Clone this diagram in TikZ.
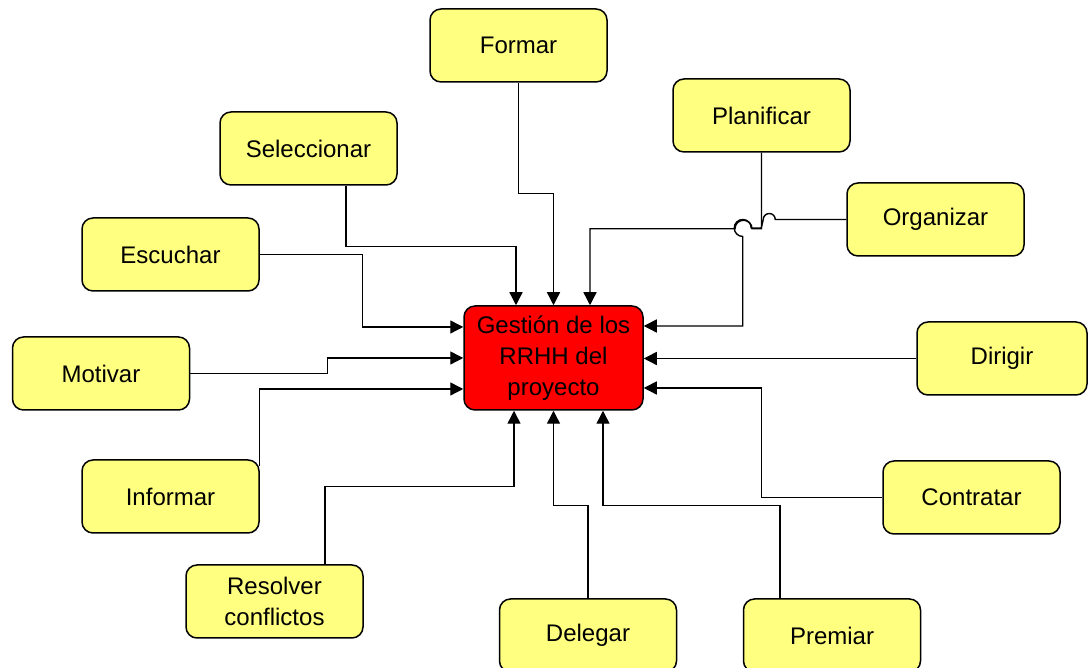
\documentclass[tikz,border=0pt]{standalone}
\usepackage{fontspec}
\setmainfont{Liberation Sans}
\usetikzlibrary{arrows.meta,calc}
\definecolor{boxyellow}{RGB}{255,255,128}
\definecolor{corered}{RGB}{255,0,0}
\begin{document}
\begin{tikzpicture}[x=1pt,y=1pt,
  task/.style={draw=black, line width=1.5pt, fill=boxyellow, rounded corners=11pt,
    minimum width=177pt, minimum height=73pt, inner sep=0pt, align=center,
    font=\fontsize{24}{31}\selectfont},
  core/.style={task, fill=corered, minimum width=179pt, minimum height=104pt},
  conn/.style={line width=1.4pt, rounded corners=0pt},
  tip/.style={conn, -{Triangle[length=13pt,width=13pt]}}]
\useasboundingbox (0,0) rectangle (1088,668);
\clip (0,0) rectangle (1088,668);

% central activity
\node[core] (gest) at (553.5,310) {Gestión de los\\RRHH del\\proyecto};

% surrounding activities
\node[task] (formar) at (518.5,622.5) {Formar};
\node[task] (plan)   at (761.5,552.5) {Planificar};
\node[task] (selec)  at (308.5,519.5) {Seleccionar};
\node[task] (organ)  at (935.5,448.5) {Organizar};
\node[task] (escu)   at (170.5,413.5) {Escuchar};
\node[task] (motiv)  at (101,294.5)   {Motivar};
\node[task, minimum width=170pt] (dirig) at (1002,309.5) {Dirigir};
\node[task] (inform) at (170.5,171.5) {Informar};
\node[task] (contr)  at (971.5,170.5) {Contratar};
\node[task] (resol)  at (274.5,66.5)  {Resolver\\conflictos};
\node[task] (deleg)  at (588,32.5)    {Delegar};
\node[task] (prem)   at (832,32.5)    {Premiar};

% connectors into the top side
\draw[tip] (formar.south) -- ++(0,-111) -| (gest.north);
\draw[tip] ($(selec.south)+(37.5,0)$) -- ++(0,-61) -| ($(gest.north)+(-37.5,0)$);
\draw[tip] (plan.south) -- ++(0,-76) -- ++(-9.5,0)
  arc[start angle=0, end angle=180, radius=8.5] -| ($(gest.north)+(36.5,0)$);

% connectors into the right side
\draw[tip] (organ.west) -- ++(-71,0)
  arc[start angle=0, end angle=180, radius=6] -- ++(-2,-8.5) -- ++(-10,0)
  arc[start angle=0, end angle=270, radius=8.5] |- ($(gest.east)+(0,32)$);
\draw[tip] (dirig.west) -- (dirig.west -| gest.east);
\draw[tip] (contr.west) -- ++(-121,0) |- ($(gest.east)+(0,-30)$);

% connectors into the left side
\draw[tip] (escu.east) -- ++(103,0) |- ($(gest.west)+(0,31)$);
\draw[tip] (motiv.east) -- ++(137,0) |- (gest.west);
\draw[tip] ($(inform.north east)+(0,-7)$) |- ($(gest.west)+(0,-31)$);

% connectors into the bottom side
\draw[tip] ($(resol.north)+(50.5,0)$) -- ++(0,78) -| ($(gest.south)+(-39.5,0)$);
\draw[tip] (deleg.north) -- ++(0,93) -| (gest.south);
\draw[tip] ($(prem.north)+(-52,0)$) -- ++(0,93) -| ($(gest.south)+(49.5,0)$);
\end{tikzpicture}
\end{document}
